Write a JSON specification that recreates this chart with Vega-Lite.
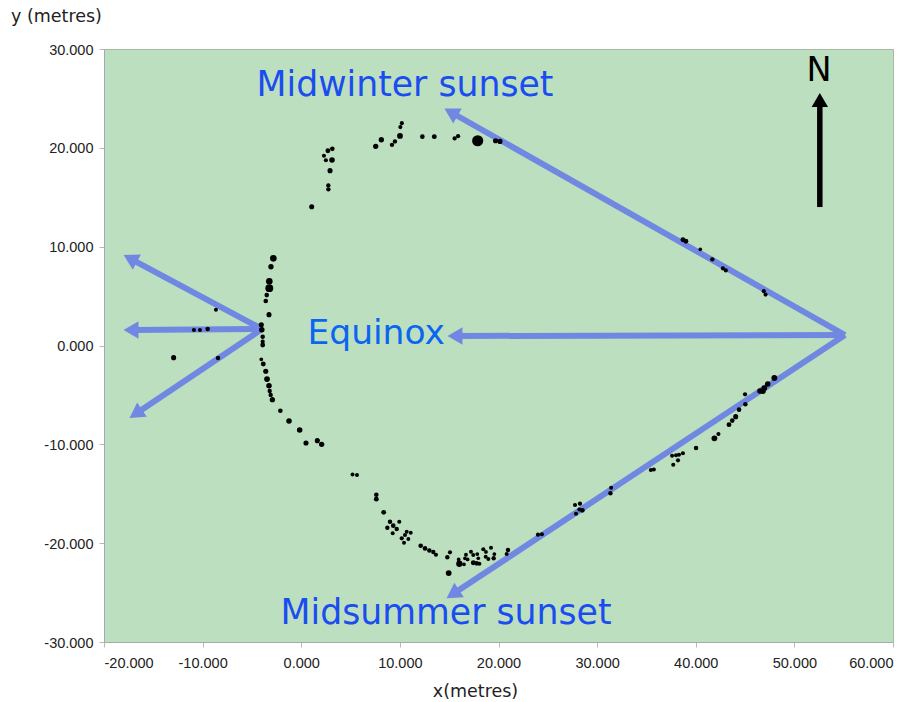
{"$schema":"https://vega.github.io/schema/vega-lite/v6.json","width":789,"height":593,"autosize":{"type":"none"},"padding":{"left":104,"top":49,"right":23,"bottom":60},"background":"white","view":{"fill":"#bce0bf","stroke":"#a8b8a8"},"datasets":{"stones":[{"x":-2.83,"y":8.82,"s":30},{"x":-3.07,"y":7.97,"s":16},{"x":-3.24,"y":6.5,"s":30},{"x":-3.24,"y":5.8,"s":45},{"x":-3.5,"y":5.1,"s":10},{"x":-3.6,"y":4.5,"s":10},{"x":-3.27,"y":3.12,"s":14},{"x":-4.05,"y":2.1,"s":14},{"x":-4.0,"y":1.6,"s":18},{"x":-3.91,"y":0.89,"s":9},{"x":-3.91,"y":0.4,"s":6},{"x":-3.91,"y":0.05,"s":12},{"x":-4.05,"y":-1.4,"s":4},{"x":-3.85,"y":-1.87,"s":12},{"x":-3.6,"y":-2.61,"s":14},{"x":-3.47,"y":-3.39,"s":20},{"x":-3.27,"y":-4.07,"s":18},{"x":-3.2,"y":-4.6,"s":8},{"x":-3.1,"y":-5.0,"s":8},{"x":-2.93,"y":-5.48,"s":16},{"x":-2.12,"y":-6.6,"s":10},{"x":-1.24,"y":-7.64,"s":18},{"x":-0.16,"y":-8.55,"s":18},{"x":0.48,"y":-9.87,"s":14},{"x":1.63,"y":-9.63,"s":14},{"x":2.07,"y":-10.0,"s":16},{"x":-8.65,"y":3.62,"s":5},{"x":-10.88,"y":1.57,"s":6},{"x":-10.27,"y":1.57,"s":5},{"x":-9.49,"y":1.67,"s":9},{"x":-8.44,"y":-1.26,"s":8},{"x":-12.94,"y":-1.23,"s":14},{"x":1.06,"y":14.04,"s":14},{"x":2.75,"y":16.2,"s":8},{"x":2.75,"y":15.8,"s":8},{"x":2.92,"y":17.69,"s":14},{"x":3.12,"y":18.77,"s":18},{"x":2.3,"y":19.2,"s":6},{"x":2.5,"y":18.75,"s":6},{"x":2.7,"y":19.7,"s":12},{"x":3.15,"y":19.9,"s":10},{"x":7.55,"y":20.15,"s":16},{"x":8.12,"y":20.82,"s":16},{"x":9.2,"y":20.3,"s":8},{"x":9.5,"y":20.65,"s":8},{"x":10.01,"y":21.2,"s":20},{"x":10.05,"y":22.1,"s":6},{"x":10.2,"y":22.5,"s":6},{"x":12.28,"y":21.13,"s":10},{"x":13.49,"y":21.13,"s":12},{"x":15.55,"y":20.95,"s":7},{"x":15.9,"y":21.18,"s":7},{"x":17.89,"y":20.72,"s":100},{"x":19.7,"y":20.72,"s":14},{"x":20.15,"y":20.65,"s":14},{"x":5.2,"y":-13.05,"s":5},{"x":5.65,"y":-13.1,"s":5},{"x":7.61,"y":-15.1,"s":10},{"x":7.61,"y":-15.55,"s":12},{"x":8.36,"y":-16.88,"s":12},{"x":9.0,"y":-17.83,"s":9},{"x":9.94,"y":-17.83,"s":6},{"x":9.33,"y":-18.23,"s":10},{"x":8.73,"y":-18.44,"s":8},{"x":9.68,"y":-18.57,"s":8},{"x":9.27,"y":-19.0,"s":5},{"x":10.69,"y":-18.84,"s":5},{"x":11.1,"y":-18.94,"s":5},{"x":10.52,"y":-19.18,"s":6},{"x":10.19,"y":-19.51,"s":7},{"x":10.86,"y":-19.58,"s":5},{"x":10.42,"y":-19.95,"s":5},{"x":12.11,"y":-20.26,"s":10},{"x":12.55,"y":-20.53,"s":10},{"x":12.99,"y":-20.73,"s":9},{"x":13.39,"y":-20.89,"s":8},{"x":13.66,"y":-21.17,"s":6},{"x":15.08,"y":-20.93,"s":6},{"x":14.81,"y":-21.43,"s":8},{"x":14.95,"y":-23.02,"s":20},{"x":16.03,"y":-22.08,"s":26},{"x":15.96,"y":-21.64,"s":4},{"x":16.5,"y":-22.14,"s":4},{"x":16.6,"y":-21.53,"s":4},{"x":16.87,"y":-21.64,"s":4},{"x":16.7,"y":-21.17,"s":4},{"x":17.21,"y":-20.86,"s":5},{"x":17.44,"y":-21.2,"s":5},{"x":17.85,"y":-21.1,"s":4},{"x":17.95,"y":-21.53,"s":3},{"x":17.44,"y":-21.98,"s":12},{"x":17.79,"y":-22.04,"s":10},{"x":18.06,"y":-22.08,"s":6},{"x":18.46,"y":-20.62,"s":6},{"x":19.24,"y":-20.46,"s":5},{"x":18.73,"y":-20.89,"s":4},{"x":18.7,"y":-21.37,"s":5},{"x":18.97,"y":-21.6,"s":5},{"x":19.58,"y":-21.1,"s":4},{"x":19.51,"y":-21.53,"s":8},{"x":20.96,"y":-20.69,"s":8},{"x":20.83,"y":-21.1,"s":6},{"x":24.0,"y":-19.14,"s":6},{"x":24.4,"y":-19.1,"s":6},{"x":27.76,"y":-16.14,"s":6},{"x":28.26,"y":-16.0,"s":7},{"x":27.86,"y":-17.02,"s":6},{"x":28.5,"y":-16.68,"s":12},{"x":28.2,"y":-16.6,"s":6},{"x":31.42,"y":-14.4,"s":5},{"x":31.35,"y":-14.95,"s":8},{"x":35.45,"y":-12.6,"s":6},{"x":35.75,"y":-12.55,"s":6},{"x":37.6,"y":-11.15,"s":5},{"x":38.0,"y":-11.1,"s":5},{"x":38.3,"y":-11.05,"s":6},{"x":38.7,"y":-10.9,"s":6},{"x":38.2,"y":-11.62,"s":6},{"x":37.72,"y":-12.06,"s":6},{"x":40.03,"y":-10.37,"s":9},{"x":41.89,"y":-9.39,"s":20},{"x":42.3,"y":-8.96,"s":6},{"x":43.37,"y":-8.01,"s":12},{"x":43.7,"y":-7.6,"s":10},{"x":44.05,"y":-7.2,"s":14},{"x":44.39,"y":-6.49,"s":10},{"x":45.03,"y":-5.95,"s":9},{"x":45.0,"y":-4.94,"s":7},{"x":46.5,"y":-4.6,"s":16},{"x":46.8,"y":-4.6,"s":22},{"x":46.95,"y":-4.3,"s":20},{"x":47.3,"y":-3.9,"s":18},{"x":47.97,"y":-3.29,"s":22},{"x":38.7,"y":10.7,"s":12},{"x":39.0,"y":10.55,"s":12},{"x":40.46,"y":9.73,"s":3},{"x":41.68,"y":8.72,"s":8},{"x":42.75,"y":7.8,"s":6},{"x":43.05,"y":7.6,"s":6},{"x":46.9,"y":5.5,"s":6},{"x":47.08,"y":5.15,"s":6}],"arrows":[{"id":"mw","x":55.13,"y":1.06,"o":1},{"id":"mw","x":15.18,"y":23.6,"o":2},{"id":"ms","x":55.13,"y":1.06,"o":1},{"id":"ms","x":15.37,"y":-25.15,"o":2},{"id":"eq","x":55.13,"y":1.06,"o":1},{"id":"eq","x":15.59,"y":0.96,"o":2},{"id":"wu","x":-3.98,"y":1.67,"o":1},{"id":"wu","x":-17.34,"y":8.79,"o":2},{"id":"wm","x":-3.98,"y":1.67,"o":1},{"id":"wm","x":-17.26,"y":1.57,"o":2},{"id":"wd","x":-3.98,"y":1.67,"o":1},{"id":"wd","x":-16.78,"y":-6.91,"o":2}],"heads":[{"x":15.18,"y":23.6,"bearing":299.5},{"x":15.37,"y":-25.15,"bearing":236.5},{"x":15.59,"y":0.96,"bearing":270},{"x":-17.34,"y":8.79,"bearing":298.2},{"x":-17.26,"y":1.57,"bearing":270},{"x":-16.78,"y":-6.91,"bearing":236.3}]},"layer":[{"data":{"name":"arrows"},"mark":{"type":"line","color":"#7088e2","strokeWidth":6,"strokeCap":"butt"},"encoding":{"x":{"field":"x","type":"quantitative","scale":{"domain":[-20,60],"nice":false,"zero":false},"axis":{"title":"x(metres)","titleX":371,"titleFont":"DejaVu Sans","titleFontSize":17.5,"titleFontWeight":"normal","titleColor":"#222","titlePadding":13,"labelFont":"Liberation Sans","labelFontSize":14.5,"labelColor":"#222","labelPadding":9,"labelExpr":"replace(format(datum.value,'.3f'),'−','-')","values":[-20,-10,0,10,20,30,40,50,60],"grid":false,"tickSize":5,"domainColor":"#a8a8a8","tickColor":"#b8b8b8"}},"y":{"field":"y","type":"quantitative","scale":{"domain":[-30,30],"nice":false,"zero":false},"axis":{"title":null,"labelFont":"Liberation Sans","labelFontSize":14.5,"labelColor":"#222","labelPadding":6,"labelOffset":1,"labelExpr":"replace(format(datum.value,'.3f'),'−','-')","values":[-30,-20,-10,0,10,20,30],"grid":false,"tickSize":5,"domainColor":"#a8a8a8","tickColor":"#b8b8b8"}},"detail":{"field":"id"},"order":{"field":"o"}}},{"data":{"name":"heads"},"mark":{"type":"point","shape":"triangle-up","filled":true,"color":"#7088e2","opacity":1,"size":300},"encoding":{"x":{"field":"x","type":"quantitative"},"y":{"field":"y","type":"quantitative"},"angle":{"field":"bearing","type":"quantitative","scale":null}}},{"data":{"name":"stones"},"mark":{"type":"point","shape":"circle","filled":true,"color":"black","opacity":1},"encoding":{"x":{"field":"x","type":"quantitative"},"y":{"field":"y","type":"quantitative"},"size":{"field":"s","type":"quantitative","scale":{"domain":[0,100],"range":[10,125]},"legend":null}}},{"data":{"values":[{"x":52.58,"y":14.01},{"x":52.58,"y":24.4}]},"mark":{"type":"line","color":"black","strokeWidth":5.5},"encoding":{"x":{"field":"x","type":"quantitative"},"y":{"field":"y","type":"quantitative"}}},{"data":{"values":[{"x":52.58,"y":24.84}]},"mark":{"type":"point","shape":"triangle-up","filled":true,"color":"black","opacity":1,"size":270},"encoding":{"x":{"field":"x","type":"quantitative"},"y":{"field":"y","type":"quantitative"}}},{"data":{"values":[{"x":10.52,"y":26.3,"label":"Midwinter sunset"},{"x":14.68,"y":-27.15,"label":"Midsummer sunset"}]},"mark":{"type":"text","font":"DejaVu Sans","fontSize":34.7,"color":"#1a4cf0","align":"center","baseline":"middle"},"encoding":{"x":{"field":"x","type":"quantitative"},"y":{"field":"y","type":"quantitative"},"text":{"field":"label"}}},{"data":{"values":[{"x":7.6,"y":1.15,"label":"Equinox"}]},"mark":{"type":"text","font":"DejaVu Sans","fontSize":34.5,"color":"#0a66f0","align":"center","baseline":"middle"},"encoding":{"x":{"field":"x","type":"quantitative"},"y":{"field":"y","type":"quantitative"},"text":{"field":"label"}}},{"data":{"values":[{"x":52.5,"y":27.8,"label":"N"}]},"mark":{"type":"text","font":"DejaVu Sans","fontSize":33.5,"color":"black","align":"center","baseline":"middle"},"encoding":{"x":{"field":"x","type":"quantitative"},"y":{"field":"y","type":"quantitative"},"text":{"field":"label"}}},{"data":{"values":[{"x":-20,"y":30,"label":"y (metres)"}]},"mark":{"type":"text","font":"DejaVu Sans","fontSize":17.5,"color":"#222","align":"left","baseline":"middle","dx":-93,"dy":-32,"clip":false},"encoding":{"x":{"field":"x","type":"quantitative"},"y":{"field":"y","type":"quantitative"},"text":{"field":"label"}}}]}
